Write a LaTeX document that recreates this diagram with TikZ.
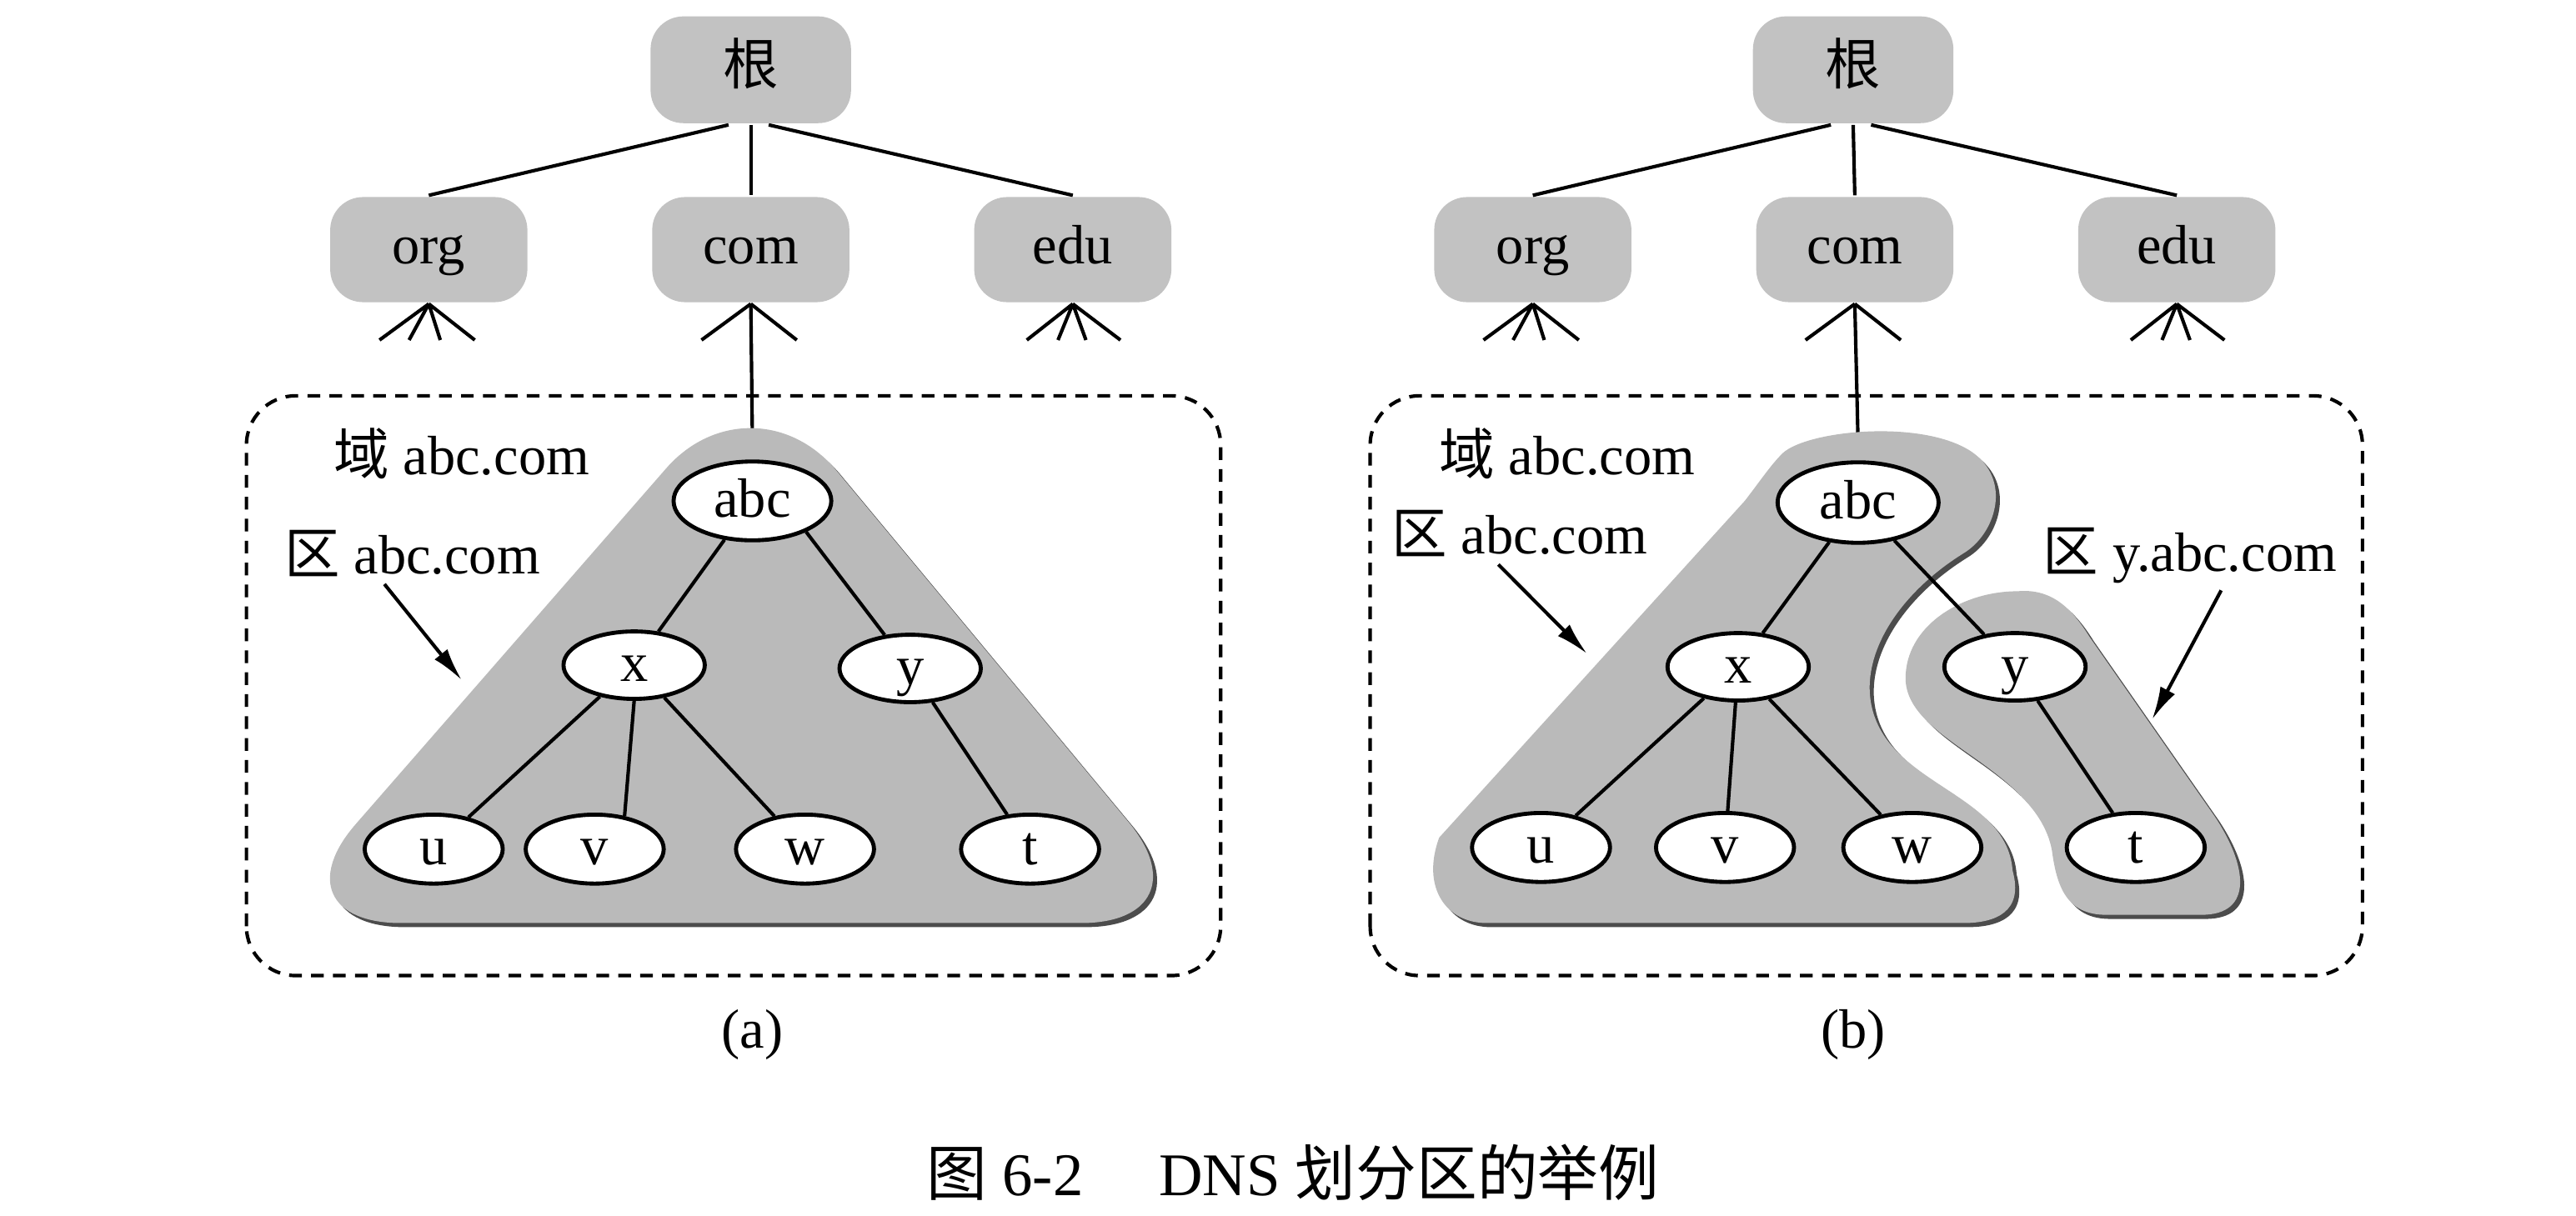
\documentclass[tikz,border=0pt]{standalone}
\usepackage{fontspec}
\setmainfont{Liberation Serif}
\newfontfamily\cjk{Noto Sans CJK SC}
\usetikzlibrary{shapes.geometric,arrows.meta}

\definecolor{dotgray}{gray}{0.76}
\definecolor{zonegray}{gray}{0.73}
\definecolor{shadowgray}{gray}{0.30}

\tikzset{
  domainbox/.style={fill=dotgray, rounded corners=0.2cm, minimum width=1.2cm, minimum height=0.64cm, inner sep=0pt, text height=1.6ex, text depth=0.5ex},
  hostnode/.style={ellipse, draw, fill=white, line width=0.7pt, minimum width=0.84cm, minimum height=0.42cm, inner sep=0pt, text height=1.5ex, text depth=0.3ex},
  zonefill/.style={fill=zonegray, preaction={fill=shadowgray, transform canvas={shift={(0.025,-0.025)}}}},
  domainframe/.style={dash pattern=on 2.2pt off 1.6pt, line width=0.6pt, rounded corners=0.3cm},
  zonelabel/.style={inner sep=1pt},
  pointer/.style={-{Latex[length=2mm,width=1mm]}, line width=0.6pt},
}

\begin{document}
\begin{tikzpicture}[line width=0.6pt, font=\fontsize{9.6pt}{11pt}\selectfont]
\useasboundingbox (0,0) rectangle (15.68,7.40);
% (a) upper levels
\node[domainbox, minimum width=1.22cm, minimum height=0.65cm] (roota) at (4.57,6.975) {\cjk 根};
\node[domainbox] (orga) at (2.61,5.88) {org};
\node[domainbox] (coma) at (4.57,5.88) {com};
\node[domainbox] (edua) at (6.53,5.88) {edu};
\draw (roota.-112) -- (orga.north);
\draw (roota.south) -- (coma.north);
\draw (roota.-72) -- (edua.north);
\draw (orga.south) -- +(-0.30,-0.22) (orga.south) -- +(-0.12,-0.22)
      (orga.south) -- +(0.07,-0.22) (orga.south) -- +(0.28,-0.22);
\draw (coma.south) -- +(-0.30,-0.22) (coma.south) -- +(0.28,-0.22);
\draw (edua.south) -- +(-0.28,-0.22) (edua.south) -- +(-0.09,-0.22)
      (edua.south) -- +(0.08,-0.22) (edua.south) -- +(0.29,-0.22);
\coordinate (apexa) at (4.58,4.70);
\draw (coma.south) -- (apexa);
\draw[domainframe] (1.50,1.46) rectangle (7.43,4.99);
% (a) zone abc.com
\fill[zonefill, rounded corners=0.8cm] (4.58,1.78) -- (7.38,1.78) -- (4.58,5.15) -- (1.64,1.78) -- cycle;
\node[hostnode, minimum width=0.96cm, minimum height=0.48cm] (abca) at (4.58,4.35) {abc};
\node[hostnode, minimum width=0.86cm, minimum height=0.41cm] (xa) at (3.86,3.35) {x};
\node[hostnode, minimum width=0.86cm, minimum height=0.41cm] (ya) at (5.54,3.33) {y};
\node[hostnode] (ua) at (2.64,2.23) {u};
\node[hostnode] (va) at (3.62,2.23) {v};
\node[hostnode] (wa) at (4.90,2.23) {w};
\node[hostnode] (ta) at (6.27,2.23) {t};
\draw (abca) -- (xa);
\draw (abca.-30) -- (ya);
\draw (xa) -- (ua);
\draw (xa.south) -- (va.48);
\draw (xa) -- (wa);
\draw (ya) -- (ta);
\node[zonelabel] (dza) at (2.81,4.64) {{\cjk 域} abc.com};
\node[zonelabel] (lza) at (2.51,4.03) {{\cjk 区} abc.com};
\coordinate (tipa) at (2.81,3.26);
\draw[pointer] ([xshift=-0.17cm]lza.south) -- (tipa);
\node (capa) at (4.58,1.10) {(a)};

% (b) upper levels
\node[domainbox, minimum width=1.22cm, minimum height=0.65cm] (rootb) at (11.28,6.975) {\cjk 根};
\node[domainbox] (orgb) at (9.33,5.88) {org};
\node[domainbox] (comb) at (11.29,5.88) {com};
\node[domainbox] (edub) at (13.25,5.88) {edu};
\draw (rootb.-112) -- (orgb.north);
\draw (rootb.south) -- (comb.north);
\draw (rootb.-72) -- (edub.north);
\draw (orgb.south) -- +(-0.30,-0.22) (orgb.south) -- +(-0.12,-0.22)
      (orgb.south) -- +(0.07,-0.22) (orgb.south) -- +(0.28,-0.22);
\draw (comb.south) -- +(-0.30,-0.22) (comb.south) -- +(0.28,-0.22);
\draw (edub.south) -- +(-0.28,-0.22) (edub.south) -- +(-0.09,-0.22)
      (edub.south) -- +(0.08,-0.22) (edub.south) -- +(0.29,-0.22);
\coordinate (apexb) at (11.31,4.70);
\draw (comb.south) -- (apexb);
\draw[domainframe] (8.34,1.46) rectangle (14.38,4.99);
% (b) zone abc.com
\fill[zonefill] (10.85,4.64) .. controls (11.00,4.78) and (11.70,4.85) .. (12.00,4.65)
  .. controls (12.25,4.48) and (12.15,4.15) .. (11.95,4.03)
  .. controls (11.50,3.75) and (11.25,3.30) .. (11.45,2.95)
  .. controls (11.65,2.60) and (12.22,2.52) .. (12.25,2.10)
  .. controls (12.32,1.85) and (12.15,1.78) .. (11.95,1.78)
  -- (9.05,1.78)
  .. controls (8.80,1.78) and (8.65,2.00) .. (8.76,2.30)
  -- (10.62,4.35)
  .. controls (10.72,4.48) and (10.78,4.57) .. (10.85,4.64) -- cycle;
% (b) zone y.abc.com
\fill[zonefill] (12.28,3.80) .. controls (12.50,3.82) and (12.62,3.68) .. (12.72,3.52)
  -- (13.48,2.43)
  .. controls (13.68,2.13) and (13.72,1.83) .. (13.40,1.83)
  -- (12.82,1.83)
  .. controls (12.58,1.83) and (12.52,2.00) .. (12.49,2.22)
  .. controls (12.45,2.45) and (12.25,2.62) .. (12.04,2.77)
  .. controls (11.80,2.94) and (11.58,3.08) .. (11.60,3.30)
  .. controls (11.62,3.60) and (11.95,3.80) .. (12.28,3.80) -- cycle;
\node[hostnode, minimum width=0.98cm, minimum height=0.49cm] (abcb) at (11.31,4.34) {abc};
\node[hostnode, minimum width=0.86cm, minimum height=0.40cm] (xb) at (10.58,3.34) {x};
\node[hostnode, minimum width=0.86cm, minimum height=0.40cm] (yb) at (12.265,3.34) {y};
\node[hostnode] (ub) at (9.38,2.24) {u};
\node[hostnode] (vb) at (10.50,2.24) {v};
\node[hostnode] (wb) at (11.64,2.24) {w};
\node[hostnode] (tb) at (13.00,2.24) {t};
\draw (abcb) -- (xb);
\draw (abcb) -- (yb);
\draw (xb) -- (ub);
\draw (xb) -- (vb);
\draw (xb) -- (wb);
\draw (yb) -- (tb);
\node[zonelabel] (dzb) at (9.54,4.64) {{\cjk 域} abc.com};
\node[zonelabel] (lzb) at (9.25,4.15) {{\cjk 区} abc.com};
\node[zonelabel] (lzy) at (13.33,4.02) {{\cjk 区} y.abc.com};
\coordinate (tipb) at (9.66,3.42);
\coordinate (tipy) at (13.10,3.02);
\draw[pointer] ([xshift=-0.13cm]lzb.south) -- (tipb);
\draw[pointer] ([xshift=0.19cm]lzy.south) -- (tipy);
\node (capb) at (11.28,1.10) {(b)};

\node[font=\fontsize{10.5pt}{12pt}\selectfont] (title) at (7.87,0.26) {{\cjk 图} 6-2\quad\ DNS {\cjk 划分区的举例}};
\end{tikzpicture}
\end{document}
